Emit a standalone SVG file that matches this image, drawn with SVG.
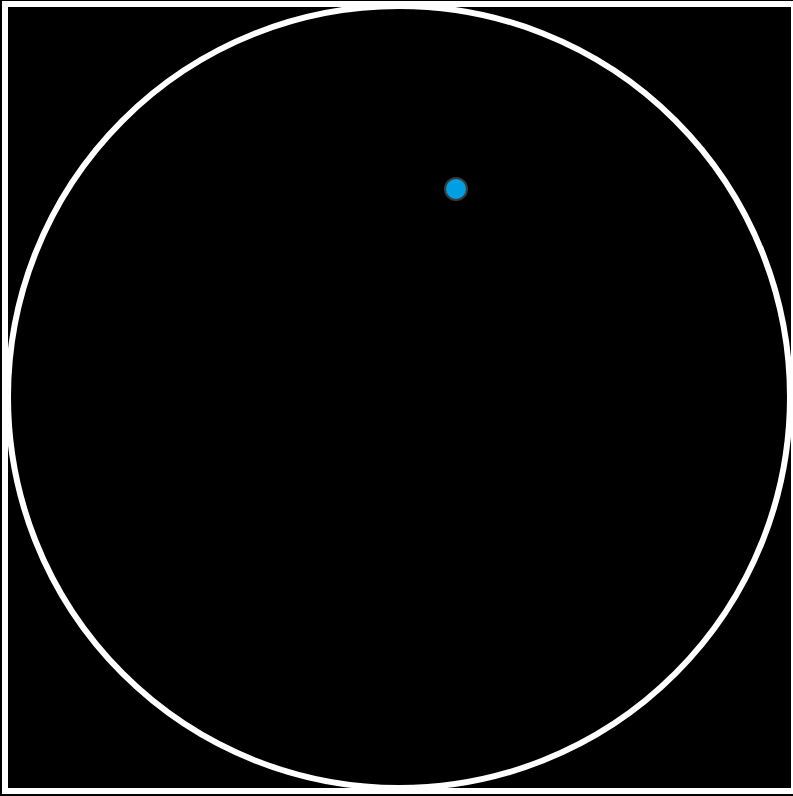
<svg xmlns="http://www.w3.org/2000/svg" width="793" height="796" viewBox="0 0 793 796">
<style>
.frame{fill:#000;stroke:#fff;stroke-width:6}
.ring{fill:none;stroke:#fff;stroke-width:6}
.dot{fill:#009fe3;stroke:#3a3a3a;stroke-width:2}
</style>
<rect width="793" height="796" fill="#000"/>
<g id="frame"><rect class="frame" x="5" y="4" width="789" height="787"/></g>
<g id="circle"><circle class="ring" cx="399" cy="397" r="391"/></g>
<g id="point"><circle class="dot" cx="456" cy="189" r="11"/></g>
</svg>
